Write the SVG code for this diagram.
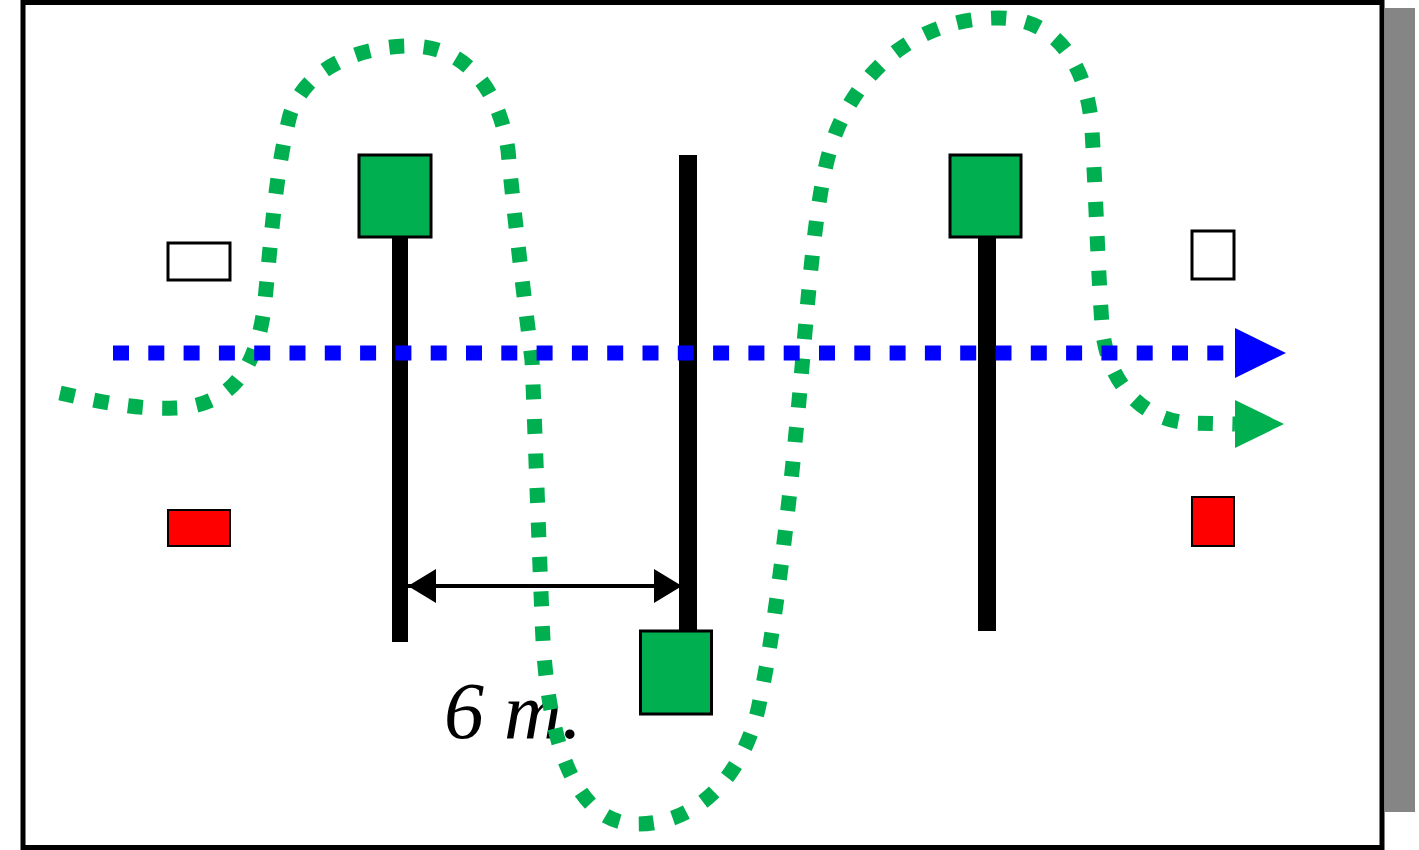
<svg xmlns="http://www.w3.org/2000/svg" width="1419" height="850" viewBox="0 0 1419 850">
<style>
.pole{fill:#000}
.box{fill:#00B050;stroke:#000;stroke-width:3}
.white{fill:#fff;stroke:#000;stroke-width:3}
.red{fill:#FF0000;stroke:#000;stroke-width:2}
.green{fill:none;stroke:#00B050;stroke-width:15;stroke-dasharray:15 19.5}
.blue{fill:none;stroke:#0000FF;stroke-width:15;stroke-dasharray:16 19.3}
.dim{stroke:#000;stroke-width:4;fill:none}
.lbl{font-family:"Liberation Serif","Times New Roman",serif;font-style:italic;font-size:80px;fill:#000}
</style>
<defs>
<marker id="ah" viewBox="0 0 28 34" refX="28" refY="17" markerWidth="28" markerHeight="34" markerUnits="userSpaceOnUse" orient="auto-start-reverse">
<polygon points="0,0 28,17 0,34" fill="#000"/>
</marker>
</defs>
<rect x="1385" y="8" width="30" height="804" fill="#858585"/>
<rect x="23" y="2.5" width="1359" height="845" fill="#fff" stroke="#000" stroke-width="5"/>
<g id="marker-left-white"><rect class="white" x="168" y="243" width="62" height="37"/></g>
<g id="marker-left-red"><rect class="red" x="168" y="510" width="62" height="36"/></g>
<g id="marker-right-white"><rect class="white" x="1192" y="231" width="42" height="48"/></g>
<g id="marker-right-red"><rect class="red" x="1192" y="497" width="42" height="49"/></g>
<g id="pole-left"><rect class="pole" x="392" y="237" width="16" height="405"/><rect class="box" x="359" y="155" width="72" height="82"/></g>
<g id="pole-middle"><rect class="pole" x="679" y="155" width="18" height="477"/><rect class="box" x="640.5" y="631" width="71" height="83"/></g>
<g id="pole-right"><rect class="pole" x="978" y="237" width="18" height="394"/><rect class="box" x="950" y="155" width="71" height="82"/></g>
<g id="label"><text class="lbl" x="444" y="738">6 m.</text></g>
<g id="connectors">
<line class="dim" x1="408" y1="586" x2="682" y2="586" marker-start="url(#ah)" marker-end="url(#ah)"/>
<path class="green" d="M 60 393 C 100 402, 140 410, 175 408 C 230 406, 258 370, 265 300 C 272 230, 276 170, 290 115 C 305 68, 360 46, 410 46 C 470 46, 500 95, 508 150 C 512 195, 523 290, 532 360 C 535 430, 538 520, 542 617 C 546 750, 578 824, 637 824 C 705 824, 748 765, 760 700 C 775 630, 790 500, 800 390 C 808 300, 815 200, 830 150 C 850 80, 910 18, 998 18 C 1060 18, 1088 70, 1092 130 C 1096 200, 1098 270, 1102 325 C 1106 380, 1140 420, 1190 423 L 1235 424"/>
<polygon points="1235,400 1284,424 1235,448" fill="#00B050"/>
<line class="blue" x1="113" y1="353" x2="1235" y2="353"/>
<polygon points="1235,328 1286,353 1235,378" fill="#0000FF"/>
</g>
</svg>
